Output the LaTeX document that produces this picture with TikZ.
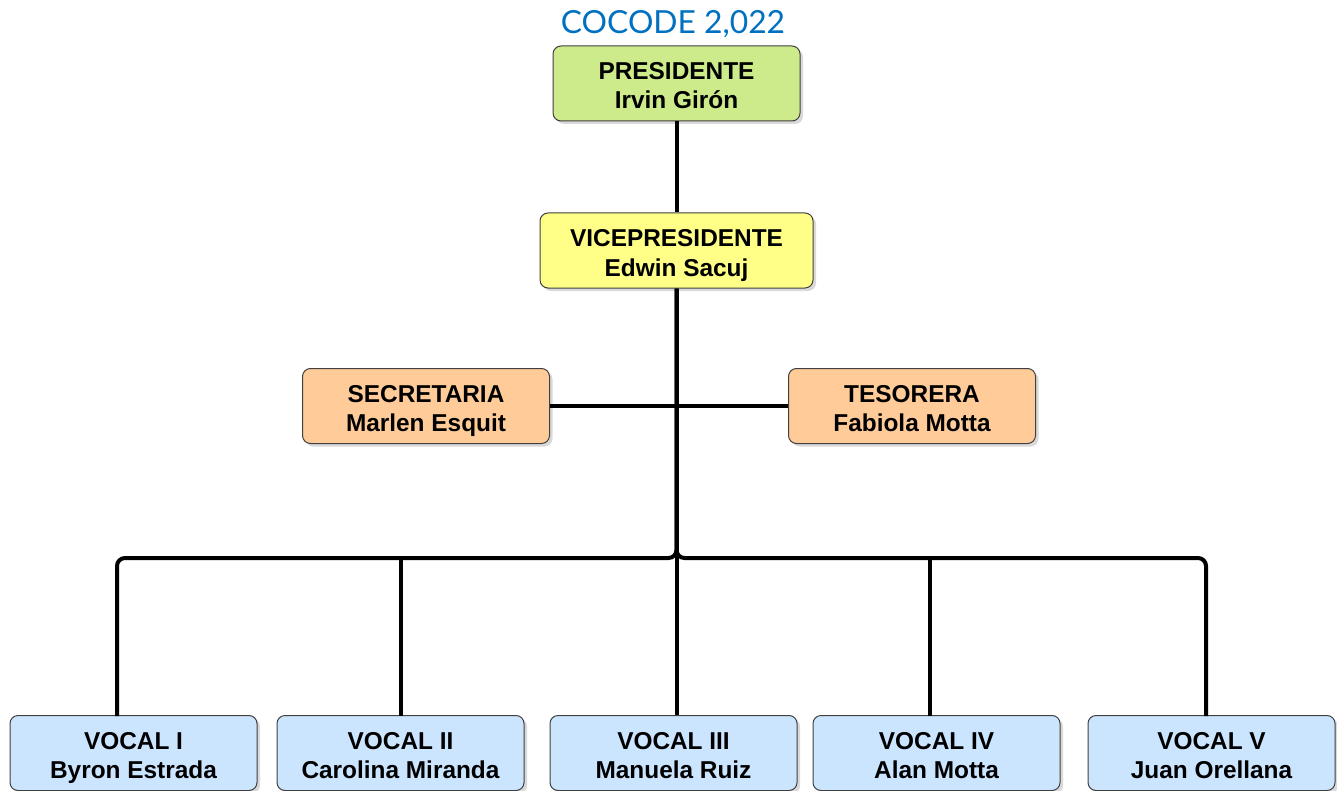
\documentclass[tikz,border=0pt]{standalone}
\usepackage{fontspec}
\setmainfont{Liberation Sans}
\newfontfamily\titlefont{Lato}
\usepackage{tikz}
\usetikzlibrary{shadows}
\definecolor{presgreen}{RGB}{205,235,139}
\definecolor{viceyellow}{RGB}{255,255,136}
\definecolor{secorange}{RGB}{255,204,153}
\definecolor{vocalblue}{RGB}{204,229,255}
\definecolor{titleblue}{RGB}{0,112,192}
\tikzstyle{every node}=[font=\fontsize{12.2}{14.5}\selectfont\bfseries]
\tikzset{BoxStyle/.style = {
						shape          = rectangle,
			      rounded corners = 4pt,
			      draw           = black!75,
			      line width     = 0.5pt,
			      align          = center,
			      inner sep      = 0pt,
			      minimum width  = 123.5pt,
			      minimum height = 37.5pt,
			      drop shadow    = {shadow xshift=1.5pt, shadow yshift=-1.5pt, opacity=0.3}}
						}
\tikzset{LinkStyle/.style = {line width=2pt, black, rounded corners=4pt}}
\newcommand{\boxlines}[2]{\rule{0pt}{11pt}#1\\\smash{#2}}

\begin{document}
\begin{tikzpicture}[x=0.5pt,y=-0.5pt]
							\useasboundingbox (0,0) rectangle (1337,791);

							\draw (673,24) node[font=\titlefont\fontsize{15.9}{18}\selectfont, text=titleblue] (Title) {COCODE 2,022};

							\draw (676.5,83.5) node[BoxStyle, fill=presgreen]   (Pres) {\boxlines{PRESIDENTE}{Irvin Girón}};
							\draw (676.5,250.5) node[BoxStyle, fill=viceyellow, minimum width=136.5pt] (Vice) {\boxlines{VICEPRESIDENTE}{Edwin Sacuj}};

							\draw (426,406) node[BoxStyle, fill=secorange]   (Sec) {\boxlines{SECRETARIA}{Marlen Esquit}};
							\draw (912,406) node[BoxStyle, fill=secorange]   (Tes) {\boxlines{TESORERA}{Fabiola Motta}};

							\draw (133.5,753) node[BoxStyle, fill=vocalblue]   (V1) {\boxlines{VOCAL I}{Byron Estrada}};
							\draw (400.5,753) node[BoxStyle, fill=vocalblue]   (V2) {\boxlines{VOCAL II}{Carolina Miranda}};
							\draw (673.5,753) node[BoxStyle, fill=vocalblue]   (V3) {\boxlines{VOCAL III}{Manuela Ruiz}};
							\draw (936.5,753) node[BoxStyle, fill=vocalblue]   (V4) {\boxlines{VOCAL IV}{Alan Motta}};
							\draw (1211.5,753) node[BoxStyle, fill=vocalblue]  (V5) {\boxlines{VOCAL V}{Juan Orellana}};

							% bus line and drop points on the vocal boxes
							\coordinate (Bus) at (676.5,558);
							\coordinate (D1) at (117,716);
							\coordinate (D2) at (401,716);
							\coordinate (D4) at (930,716);
							\coordinate (D5) at (1206,716);

							\draw[LinkStyle]    (Pres) -- (Vice);
							\draw[LinkStyle]    (Sec) -- (Tes);
							\draw[LinkStyle]    (Vice.south) -- (Vice.south |- V3.north);

							\draw[LinkStyle]    (D1) |- (Bus) -- (Vice.south);
							\draw[LinkStyle]    (D5) |- (Bus) -- (Vice.south);
							\draw[LinkStyle]    (D2) -- (D2 |- Bus);
							\draw[LinkStyle]    (D4) -- (D4 |- Bus);

					\end{tikzpicture}
\end{document}
